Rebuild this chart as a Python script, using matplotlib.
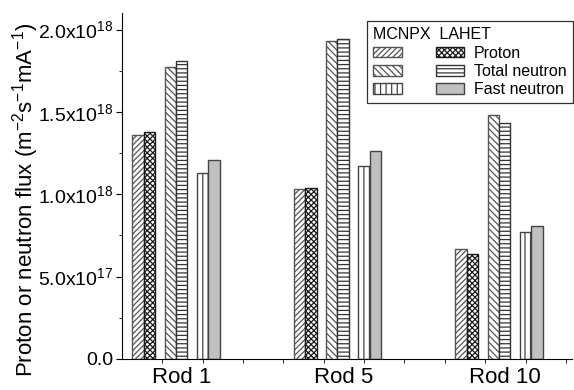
import numpy as np
import matplotlib
matplotlib.use("Agg")
import matplotlib.pyplot as plt
from matplotlib.patches import Patch

plt.rcParams['font.family'] = ['Liberation Sans', 'DejaVu Sans']
plt.rcParams['mathtext.fontset'] = 'custom'
plt.rcParams['mathtext.rm'] = 'Liberation Sans'
plt.rcParams['mathtext.it'] = 'Liberation Sans:italic'
plt.rcParams['hatch.linewidth'] = 0.9

rods = ["Rod 1", "Rod 5", "Rod 10"]
# values in units of 1e18 m^-2 s^-1 mA^-1
mcnpx_proton = [1.36, 1.03, 0.67]
lahet_proton = [1.38, 1.04, 0.64]
mcnpx_total = [1.77, 1.93, 1.48]
lahet_total = [1.81, 1.94, 1.43]
mcnpx_fast = [1.13, 1.17, 0.77]
lahet_fast = [1.21, 1.26, 0.81]

fig = plt.figure(figsize=(5.74, 3.9), dpi=100)
ax = fig.add_axes([0.2125, 0.0795, 0.784, 0.887])

centers = np.arange(len(rods)) * 4 + 1.34
w = 0.28
pair_gap = 0.8

sty_mp = dict(facecolor='white', hatch='//////', edgecolor='#555555')
sty_lp = dict(facecolor='white', hatch='xxxxxx', edgecolor='#1a1a1a')
sty_mt = dict(facecolor='white', hatch='\\\\\\\\\\', edgecolor='#555555')
sty_lt = dict(facecolor='white', hatch='----', edgecolor='#333333')
sty_mf = dict(facecolor='white', hatch='|||', edgecolor='#444444')
sty_lf = dict(facecolor='#c0c0c0', edgecolor='#444444')

series = [
    (mcnpx_proton, -pair_gap, -1, sty_mp),
    (lahet_proton, -pair_gap, 1, sty_lp),
    (mcnpx_total, 0, -1, sty_mt),
    (lahet_total, 0, 1, sty_lt),
    (mcnpx_fast, pair_gap, -1, sty_mf),
    (lahet_fast, pair_gap, 1, sty_lf),
]
for vals, off, side, style in series:
    ax.bar(centers + off + side * w / 2, np.array(vals) * 1e18, width=w,
           linewidth=1.0, **style)

ax.set_xlim(0, 11.15)
ax.set_ylim(0, 2.1e18)
ax.spines['top'].set_visible(False)
ax.spines['right'].set_visible(False)

ax.set_xticks(centers + 0.15)
ax.set_xticklabels(rods, fontsize=16)
ax.set_xticks(np.arange(1, 12), minor=True)
ax.tick_params(axis='x', which='major', length=0, pad=6)
ax.tick_params(axis='x', which='minor', length=3, direction='out')

yt = [0, 0.5e18, 1.0e18, 1.5e18, 2.0e18]
ylabs = ['0.0', r'5.0x10$^{17}$', r'1.0x10$^{18}$', r'1.5x10$^{18}$', r'2.0x10$^{18}$']
ax.set_yticks(yt)
ax.set_yticklabels(ylabs, fontsize=14)
ax.set_yticks(np.arange(0.25e18, 2.1e18, 0.5e18), minor=True)
ax.tick_params(axis='y', which='major', length=4, pad=2)
ax.tick_params(axis='y', which='minor', length=2)

ax.set_ylabel(r'Proton or neutron flux (m$^{-2}$s$^{-1}$mA$^{-1}$)', fontsize=16)
ax.yaxis.set_label_coords(-0.18, 0.46)

handles = [Patch(**sty_mp), Patch(**sty_mt), Patch(**sty_mf),
           Patch(**sty_lp), Patch(**sty_lt), Patch(**sty_lf)]
labels = ['', '', '', 'Proton', 'Total neutron', 'Fast neutron']
leg = ax.legend(handles, labels, ncol=2, title='MCNPX  LAHET', fontsize=11.5,
                title_fontsize=11.5, loc='upper right', bbox_to_anchor=(1.02, 1.0),
                frameon=True, fancybox=False, edgecolor='black',
                handlelength=1.8, handleheight=0.65, handletextpad=0.6,
                columnspacing=1.5, labelspacing=0.2, borderpad=0.4,
                alignment='left')
leg.get_frame().set_linewidth(0.9)

fig.savefig('out.png', dpi=100)
